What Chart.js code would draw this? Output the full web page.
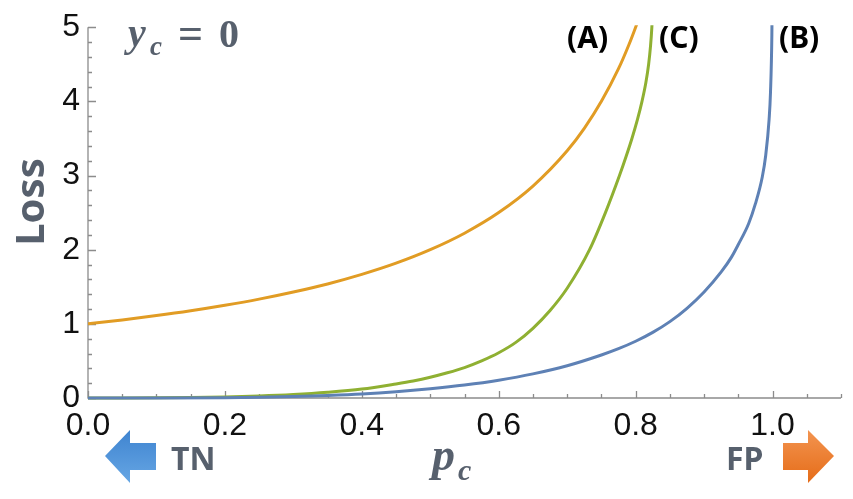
<!DOCTYPE html>
<html>
<head>
<meta charset="utf-8">
<script src="https://cdn.jsdelivr.net/npm/chart.js@4.4.1/dist/chart.umd.min.js"></script>
<style>
  body { margin: 0; background: #fff; }
  #wrap { width: 853px; height: 499px; position: relative; }
</style>
</head>
<body>
<div id="wrap"><canvas id="myChart"></canvas></div>
<script>
// values
var xTicks = [0.0, 0.2, 0.4, 0.6, 0.8, 1.0];
var yTicks = [0, 1, 2, 3, 4, 5];

// (A) orange
var pA = [0, 0.05, 0.1, 0.15, 0.2, 0.25, 0.3, 0.35, 0.4, 0.45, 0.5, 0.55, 0.6, 0.65, 0.7, 0.725, 0.75, 0.775, 0.79, 0.8, 0.81];
var lossA = [1.0, 1.053, 1.111, 1.176, 1.25, 1.333, 1.429, 1.538, 1.667, 1.818, 2.0, 2.222, 2.5, 2.857, 3.333, 3.636, 4.0, 4.44, 4.76, 5.0, 5.26];

// (B) blue
var pB = [0, 0.1, 0.2, 0.25, 0.3, 0.35, 0.4, 0.45, 0.5, 0.55, 0.6, 0.65, 0.7, 0.75, 0.775, 0.8, 0.825, 0.85, 0.875, 0.9, 0.925, 0.94, 0.95, 0.965, 0.975, 0.985, 0.99, 0.995, 0.997, 0.999, 0.9993];
var lossB = [0, 0.001, 0.005, 0.01, 0.02, 0.035, 0.055, 0.085, 0.125, 0.175, 0.24, 0.325, 0.435, 0.58, 0.665, 0.765, 0.885, 1.03, 1.21, 1.43, 1.7, 1.9, 2.07, 2.35, 2.62, 2.98, 3.27, 3.76, 4.12, 4.9, 5.2];

// (C) green
var pC = [0, 0.05, 0.1, 0.15, 0.2, 0.25, 0.3, 0.35, 0.4, 0.45, 0.475, 0.5, 0.525, 0.55, 0.575, 0.6, 0.625, 0.65, 0.675, 0.7, 0.7327, 0.7559, 0.7764, 0.7858, 0.7946, 0.8025, 0.8093, 0.8149, 0.819, 0.8218, 0.8237, 0.825];
var lossC = [0, 0, 0.002, 0.006, 0.014, 0.027, 0.047, 0.077, 0.12, 0.19, 0.23, 0.28, 0.34, 0.41, 0.5, 0.61, 0.75, 0.94, 1.18, 1.48, 2.0, 2.5, 3.0, 3.25, 3.5, 3.75, 4.0, 4.25, 4.5, 4.75, 5.0, 5.25];

var SLATE = '#57606d';

function pts(xs, ys) {
    return xs.map(function (v, i) { return {x: v, y: ys[i]}; });
}

function curve(label, xs, ys, color) {
    return {
        label: label,
        data: pts(xs, ys),
        borderColor: color,
        borderWidth: 3,
        pointRadius: 0,
        fill: false,
        cubicInterpolationMode: 'monotone',
        clip: {left: 0, right: 0, top: 2, bottom: 3}
    };
}

function arrow(ctx, points, c1, c2, y0, y1) {
    var g = ctx.createLinearGradient(0, y0, 0, y1);
    g.addColorStop(0, c1);
    g.addColorStop(1, c2);
    ctx.fillStyle = g;
    ctx.beginPath();
    ctx.moveTo(points[0][0], points[0][1]);
    for (var i = 1; i < points.length; i++) ctx.lineTo(points[i][0], points[i][1]);
    ctx.closePath();
    ctx.fill();
}

var axesPlugin = {
    id: 'axesPlugin',
    beforeDatasetsDraw: function (chart) {
        var ctx = chart.ctx, a = chart.chartArea, x = chart.scales.x, y = chart.scales.y;
        ctx.save();
        ctx.strokeStyle = '#8c8c8c';
        ctx.lineWidth = 1.3;
        ctx.beginPath();
        ctx.moveTo(a.left, a.top);
        ctx.lineTo(a.left, a.bottom);
        ctx.lineTo(a.right, a.bottom);
        ctx.stroke();
        ctx.beginPath();
        for (var i = 0; i <= 22; i++) {
            var px = Math.round(x.getPixelForValue(i * 0.05)) + 0.5;
            var len = (i % 4 === 0) ? 7 : 4;
            ctx.moveTo(px, a.bottom);
            ctx.lineTo(px, a.bottom - len);
        }
        for (var j = 0; j <= 25; j++) {
            var py = Math.round(y.getPixelForValue(j * 0.2)) + 0.5;
            var l2 = (j % 5 === 0) ? 8 : 4;
            ctx.moveTo(a.left, py);
            ctx.lineTo(a.left + l2, py);
        }
        ctx.stroke();
        ctx.restore();
    },
    afterDraw: function (chart) {
        var ctx = chart.ctx;
        ctx.save();
        ctx.textBaseline = 'alphabetic';
        ctx.textAlign = 'left';

        // y_c = 0
        ctx.fillStyle = SLATE;
        ctx.font = 'italic bold 40px "Liberation Serif"';
        ctx.fillText('y', 128, 46);
        ctx.font = 'italic bold 27px "Liberation Serif"';
        ctx.fillText('c', 150, 55);
        ctx.font = 'bold 44px "Liberation Serif"';
        ctx.fillText('=', 178, 48);
        ctx.font = 'bold 40px "Liberation Serif"';
        ctx.fillText('0', 219, 47);

        // p_c
        ctx.font = 'italic bold 46px "Liberation Serif"';
        ctx.fillText('p', 432, 470);
        ctx.font = 'italic bold 30px "Liberation Serif"';
        ctx.fillText('c', 458, 480);

        // Loss
        ctx.save();
        ctx.translate(33, 202);
        ctx.rotate(-Math.PI / 2);
        ctx.textAlign = 'center';
        ctx.textBaseline = 'middle';
        ctx.font = 'bold 40px "Noto Sans"';
        ctx.fillText('Loss', 0, 0);
        ctx.restore();

        // curve labels
        ctx.fillStyle = '#000';
        ctx.font = 'bold 30px "Noto Sans"';
        ctx.fillText('(A)', 567, 48);
        ctx.fillText('(C)', 659, 48);
        ctx.fillText('(B)', 779, 48);

        // TN / FP
        ctx.fillStyle = SLATE;
        ctx.font = 'bold 32px "Noto Sans"';
        ctx.fillText('TN', 171, 470);
        ctx.fillText('FP', 726, 470);

        arrow(ctx, [[105, 456], [130, 430], [130, 443], [156, 443], [156, 470], [130, 470], [130, 483]], '#3f84d0', '#66a6e4', 430, 483);
        arrow(ctx, [[783, 443], [808, 443], [808, 430], [834, 456], [808, 483], [808, 470], [783, 470]], '#f39450', '#e56c18', 430, 483);
        ctx.restore();
    }
};

Chart.defaults.font.family = '"Liberation Sans", Arial, sans-serif';
Chart.defaults.color = '#111';

var ctx = document.getElementById('myChart').getContext('2d');
var myChart = new Chart(ctx, {
    type: 'line',
    data: {
        datasets: [
            curve('(B)', pB, lossB, '#5e81b5'),
            curve('(C)', pC, lossC, '#8fb032'),
            curve('(A)', pA, lossA, '#e19c24')
        ]
    },
    options: {
        responsive: true,
        maintainAspectRatio: false,
        animation: false,
        devicePixelRatio: 1,
        layout: { padding: { top: 23, right: 12, left: 0, bottom: 0 } },
        plugins: { legend: { display: false }, tooltip: { enabled: false } },
        events: [],
        scales: {
            x: {
                type: 'linear',
                min: 0,
                max: 1.1,
                grid: { display: false, drawTicks: false },
                border: { display: false },
                afterBuildTicks: function (scale) {
                    scale.ticks = xTicks.map(function (v) { return {value: v}; });
                },
                afterFit: function (scale) { scale.height = 101; },
                ticks: {
                    autoSkip: false,
                    maxRotation: 0,
                    padding: 9,
                    font: { size: 32 },
                    callback: function (v) { return Number(v).toFixed(1); }
                }
            },
            y: {
                type: 'linear',
                min: 0,
                max: 5,
                grid: { display: false, drawTicks: false },
                border: { display: false },
                afterBuildTicks: function (scale) {
                    scale.ticks = yTicks.map(function (v) { return {value: v}; });
                },
                afterFit: function (scale) { scale.width = 88; },
                ticks: {
                    padding: 8,
                    font: { size: 32 },
                    callback: function (v) { return String(v); }
                }
            }
        }
    },
    plugins: [axesPlugin]
});
</script>
</body>
</html>
